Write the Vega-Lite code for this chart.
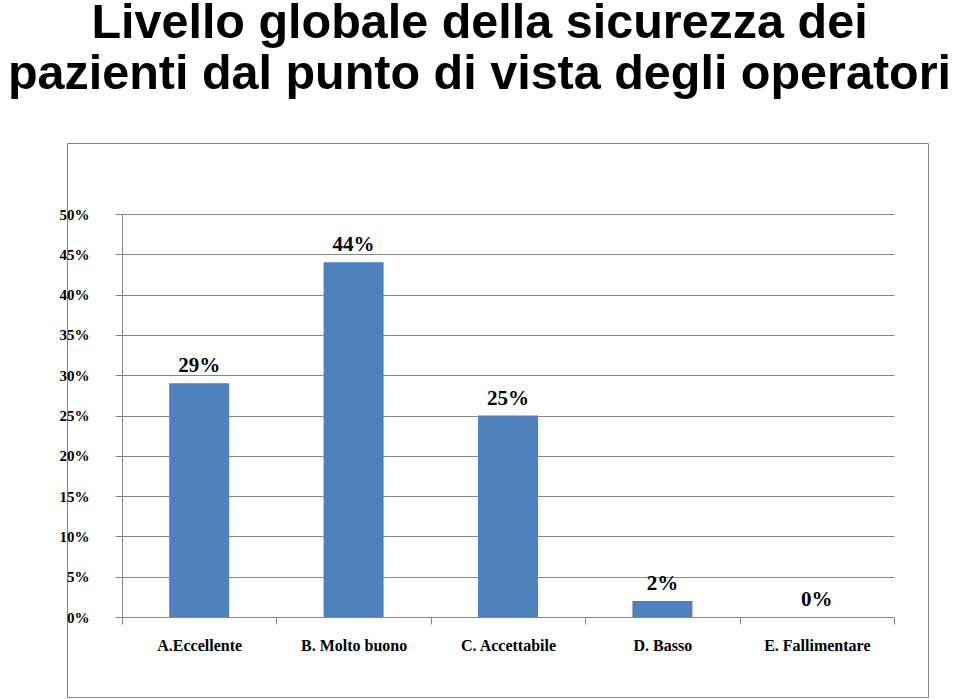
{
  "$schema": "https://vega.github.io/schema/vega-lite/v6.json",
  "autosize": {"type": "none"},
  "padding": {"left": 67, "top": 143, "right": 32, "bottom": 2},
  "width": 861,
  "height": 554,
  "background": "white",
  "title": {
    "text": ["Livello globale della sicurezza dei", "pazienti dal punto di vista degli operatori"],
    "font": "Liberation Sans",
    "fontWeight": "bold",
    "fontSize": 48.5,
    "lineHeight": 51,
    "color": "black",
    "anchor": "middle",
    "dx": -18,
    "offset": 44
  },
  "data": {
    "values": [
      {"cat": "A.Eccellente", "v": 0.29},
      {"cat": "B. Molto buono", "v": 0.44},
      {"cat": "C. Accettabile", "v": 0.25},
      {"cat": "D. Basso", "v": 0.02},
      {"cat": "E. Fallimentare", "v": 0.0}
    ]
  },
  "encoding": {
    "x": {
      "field": "cat",
      "type": "nominal",
      "sort": null,
      "scale": {"range": [55, 827], "paddingInner": 0, "paddingOuter": 0},
      "axis": {
        "title": null,
        "labelAngle": 0,
        "offset": -80,
        "tickBand": "extent",
        "tickSize": 7,
        "tickColor": "#868686",
        "domainColor": "#868686",
        "labelFont": "Liberation Serif",
        "labelFontWeight": "bold",
        "labelFontSize": 16,
        "labelColor": "black",
        "labelPadding": 13,
        "grid": false
      }
    },
    "y": {
      "field": "v",
      "type": "quantitative",
      "scale": {"domain": [0, 0.5], "range": [474, 71], "nice": false},
      "axis": {
        "title": null,
        "offset": -55,
        "values": [0, 0.05, 0.1, 0.15, 0.2, 0.25, 0.3, 0.35, 0.4, 0.45, 0.5],
        "format": ".0%",
        "tickSize": 7,
        "tickColor": "#868686",
        "domainColor": "#868686",
        "gridColor": "#868686",
        "gridOpacity": 1,
        "labelFont": "Liberation Serif",
        "labelFontWeight": "bold",
        "labelFontSize": 15,
        "labelColor": "black",
        "labelPadding": 26
      }
    }
  },
  "layer": [
    {"mark": {"type": "bar", "width": 60, "color": "#4F81BD"}},
    {
      "mark": {
        "type": "text",
        "baseline": "alphabetic",
        "dy": -11,
        "font": "Liberation Serif",
        "fontWeight": "bold",
        "fontSize": 21,
        "color": "black"
      },
      "encoding": {"text": {"field": "v", "type": "quantitative", "format": ".0%"}}
    }
  ],
  "config": {
    "view": {"stroke": "#868686", "strokeWidth": 1}
  }
}
